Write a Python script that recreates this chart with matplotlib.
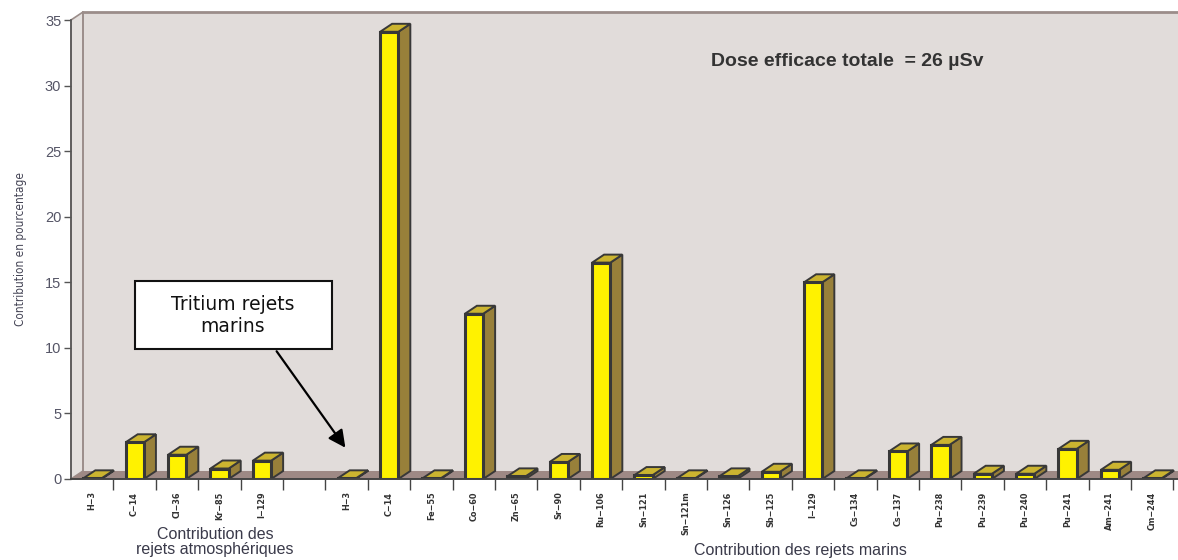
import matplotlib.pyplot as plt
from matplotlib.patches import Rectangle, Polygon

# contribution (%) of each radionuclide to the total effective dose
atm_labels = ['H\u22123', 'C\u221214', 'Cl\u221236', 'Kr\u221285', 'I\u2212129']
atm_values = [0.05, 2.8, 1.85, 0.8, 1.4]

mar_labels = ['H\u22123', 'C\u221214', 'Fe\u221255', 'Co\u221260', 'Zn\u221265', 'Sr\u221290',
              'Ru\u2212106', 'Sn\u2212121', 'Sn\u2212121m', 'Sn\u2212126', 'Sb\u2212125',
              'I\u2212129', 'Cs\u2212134', 'Cs\u2212137', 'Pu\u2212238', 'Pu\u2212239',
              'Pu\u2212240', 'Pu\u2212241', 'Am\u2212241', 'Cm\u2212244']
mar_values = [0.05, 34.1, 0.05, 12.6, 0.2, 1.3, 16.5, 0.3, 0.05, 0.2, 0.55,
              15.0, 0.05, 2.1, 2.6, 0.4, 0.4, 2.3, 0.7, 0.05]

# one empty slot between the two groups
labels = atm_labels + [''] + mar_labels
values = atm_values + [None] + mar_values

W, H = 1178, 560
fig = plt.figure(figsize=(W / 100, H / 100), dpi=100)
slot_px = 42.4
ymax = 35
ax_left, ax_bottom, ax_top = 71, 479, 20
xmax = 26.3
ax = fig.add_axes([ax_left / W, (H - ax_bottom) / H, xmax * slot_px / W, (ax_bottom - ax_top) / H])
ax.set_xlim(0, xmax)
ax.set_ylim(0, ymax)
for s in ax.spines.values():
    s.set_visible(False)
ax.patch.set_visible(False)

# depth of the pseudo-3D effect, in data units
dx = 12 / slot_px
dy = 8 / ((ax_bottom - ax_top) / ymax)

wall = '#e1dcda'
edge_wall = '#9b8d8a'
# back wall and left wall
ax.add_patch(Rectangle((dx, dy), xmax, ymax, facecolor=wall, edgecolor='none',
                       clip_on=False, zorder=0))
ax.add_patch(Polygon([(0, 0), (dx, dy), (dx, ymax + dy), (0, ymax)], closed=True,
                     facecolor='#e4e0de', edgecolor=edge_wall, lw=1.2, clip_on=False, zorder=0.5))
ax.plot([dx, xmax + 1], [ymax + dy, ymax + dy], color=edge_wall, lw=2, clip_on=False, zorder=0.6)
ax.plot([dx, dx], [dy, ymax + dy], color=edge_wall, lw=1.2, clip_on=False, zorder=0.6)
# floor
ax.add_patch(Polygon([(0, 0), (dx, dy), (xmax + 1, dy), (xmax + 1, 0)], closed=True,
                     facecolor='#9e8985', edgecolor='none', clip_on=False, zorder=1))
# front axes lines
ax.plot([0, 0], [0, ymax], color='#555555', lw=1.2, clip_on=False, zorder=5)
ax.plot([0, xmax + 1], [0, 0], color='#444444', lw=1.4, clip_on=False, zorder=5)

# bars
bw = 0.43
for i, v in enumerate(values):
    if v is None:
        continue
    x = i + 0.29
    ec = '#383838'
    ax.add_patch(Polygon([(x + bw, 0), (x + bw + dx, dy), (x + bw + dx, v + dy), (x + bw, v)],
                         closed=True, facecolor='#98803a', edgecolor=ec, lw=1.4, zorder=3,
                         joinstyle='miter'))
    ax.add_patch(Polygon([(x, v), (x + dx, v + dy), (x + bw + dx, v + dy), (x + bw, v)],
                         closed=True, facecolor='#cbb430', edgecolor=ec, lw=1.4, zorder=3,
                         joinstyle='miter'))
    ax.add_patch(Rectangle((x, 0), bw, v, facecolor='#fff200', edgecolor=ec, lw=2.2,
                           zorder=4, joinstyle='miter'))

ax.set_yticks(range(0, 36, 5))
ax.tick_params(axis='y', length=5, width=1, color='#555555', pad=2,
               labelsize=10.5, labelcolor='#555566')
for t in ax.get_yticklabels():
    t.set_fontfamily('Liberation Sans')
ax.set_xticks([i + 0.5 for i in range(len(labels))])
ax.set_xticklabels(labels, rotation=90, fontfamily='DejaVu Sans', fontstretch='condensed',
                   fontweight='bold', fontsize=6.5, color='#333333')
ax.set_xticks(range(1, 27), minor=True)
ax.tick_params(axis='x', which='major', length=0, pad=9)
ax.tick_params(axis='x', which='minor', length=8, width=1, color='#444444')
ax.set_ylabel('Contribution en pourcentage', fontfamily='DejaVu Sans', fontstretch='condensed',
              fontsize=8.5, color='#444455', labelpad=13)

# texts
fig.text(847 / W, 1 - 61 / H, 'Dose efficace totale  = 26 \u00b5Sv', ha='center', va='center',
         fontfamily='Liberation Sans', fontweight='bold', fontsize=14, color='#333333')
fig.text(215 / W, 1 - 542 / H, 'Contribution des\nrejets atmosphériques', ha='center',
         va='center', fontfamily='Liberation Sans', fontsize=11.5, color='#3a3a4a',
         linespacing=1.05)
fig.text(800 / W, 1 - 551 / H, 'Contribution des rejets marins', ha='center', va='center',
         fontfamily='Liberation Sans', fontsize=11.5, color='#3a3a4a')

# callout pointing at the marine tritium bar
fig.patches.append(Rectangle((135 / W, 1 - 349 / H), 197 / W, 68 / H, transform=fig.transFigure,
                             facecolor='white', edgecolor='#111111', lw=1.5, zorder=10))
fig.text(233 / W, 1 - 315 / H, 'Tritium rejets\nmarins', ha='center', va='center',
         fontsize=13.5, color='#111111', linespacing=1.2, zorder=11)
ax.annotate('', xy=(347, H - 450), xycoords='figure pixels',
            xytext=(275, H - 349), textcoords='figure pixels',
            arrowprops=dict(arrowstyle='-|>', color='black', lw=1.6, mutation_scale=26),
            zorder=11)

fig.savefig('out.png', dpi=100)
